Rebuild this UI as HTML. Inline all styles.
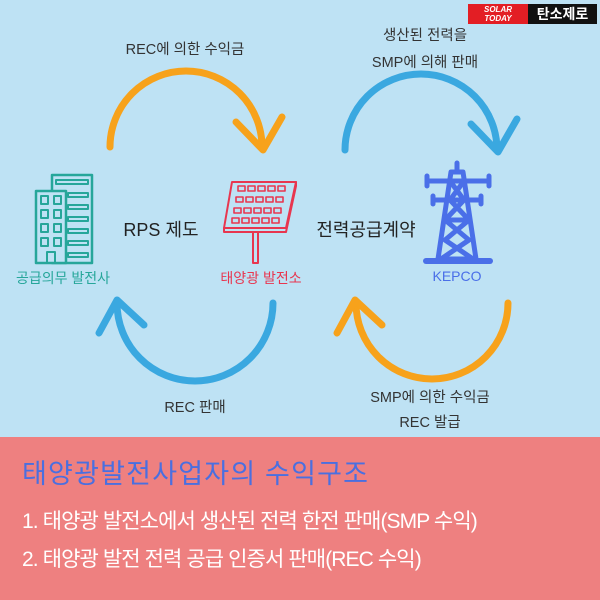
<!DOCTYPE html>
<html><head><meta charset="utf-8"><style>
body{margin:0;width:600px;height:600px;overflow:hidden;background:#bee2f4;font-family:"Liberation Sans","Noto Sans CJK KR",sans-serif;position:relative}
.t{position:absolute;white-space:nowrap;transform:translateX(-50%);color:#333;font-size:14.5px}
.band{position:absolute;left:0;top:437px;width:600px;height:163px;background:#ee8080}
</style></head><body>
<svg width="600" height="600" style="position:absolute;left:0;top:0" fill="none" stroke-linecap="round" stroke-linejoin="round">
<g stroke-width="7">
<path d="M110 147 A76 76 0 0 1 262 147" stroke="#f7a21b"/>
<path d="M236 122 L263 150 L282 117" stroke="#f7a21b"/>
<path d="M345 150 A76 76 0 0 1 497 150" stroke="#3aa8e0"/>
<path d="M471 124 L498 152 L517 119" stroke="#3aa8e0"/>
<path d="M273 303 A78 78 0 0 1 117 303" stroke="#3aa8e0"/>
<path d="M99 333 L117 300 L144 325" stroke="#3aa8e0"/>
<path d="M508 303 A76 76 0 0 1 356 303" stroke="#f7a21b"/>
<path d="M337 333 L355 300 L382 325" stroke="#f7a21b"/>
</g>
<g stroke="#26a69a" stroke-width="2.5">
<rect x="52" y="175" width="40" height="88"/>
<rect x="36" y="191" width="30" height="72" fill="#bee2f4"/>
<g stroke-width="2">
<rect x="56" y="180" width="32" height="4"/><rect x="68" y="193" width="20" height="4"/><rect x="68" y="205" width="20" height="4"/><rect x="68" y="217" width="20" height="4"/><rect x="68" y="229" width="20" height="4"/><rect x="68" y="241" width="20" height="4"/><rect x="68" y="253" width="20" height="4"/>
<rect x="41" y="196" width="7" height="8"/><rect x="54" y="196" width="7" height="8"/>
<rect x="41" y="210" width="7" height="8"/><rect x="54" y="210" width="7" height="8"/>
<rect x="41" y="224" width="7" height="8"/><rect x="54" y="224" width="7" height="8"/>
<rect x="41" y="238" width="7" height="8"/><rect x="54" y="238" width="7" height="8"/>
<rect x="47" y="252" width="8" height="11"/>
</g></g>
<g stroke="#e8364f" stroke-width="2">
<path d="M232 182 L296 182 L286 228 L224 228 Z"/>
<path d="M224 228 L224 232 L286 232 L296 186 L296 182"/>
<rect x="253" y="232" width="5" height="31"/>
<g stroke-width="1.6">
<rect x="238" y="186" width="7" height="5"/><rect x="248" y="186" width="7" height="5"/><rect x="258" y="186" width="7" height="5"/><rect x="268" y="186" width="7" height="5"/><rect x="278" y="186" width="7" height="5"/>
<rect x="236" y="197" width="7" height="5"/><rect x="246" y="197" width="7" height="5"/><rect x="256" y="197" width="7" height="5"/><rect x="266" y="197" width="7" height="5"/><rect x="276" y="197" width="7" height="5"/>
<rect x="234" y="208" width="7" height="5"/><rect x="244" y="208" width="7" height="5"/><rect x="254" y="208" width="7" height="5"/><rect x="264" y="208" width="7" height="5"/><rect x="274" y="208" width="7" height="5"/>
<rect x="232" y="218" width="7" height="5"/><rect x="242" y="218" width="7" height="5"/><rect x="252" y="218" width="7" height="5"/><rect x="262" y="218" width="7" height="5"/><rect x="272" y="218" width="7" height="5"/>
</g></g>
<g stroke="#4a6fe8" stroke-width="5">
<path d="M457 163 L457 170"/>
<path d="M451 172 L463 172 L476 259 L438 259 Z"/>
<path d="M427 181 L489 181 M427 176 L427 186 M489 176 L489 186"/>
<path d="M433 200 L481 200 M433 196 L433 204 M481 196 L481 204"/>
<path d="M450 181 L464 200 L445 220 L469 240 L441 259 M464 181 L450 200 L469 220 L445 240 L473 259"/>
<path d="M445 220 L469 220"/>
<path d="M426 261 L490 261" stroke-width="6"/>
</g>
</svg>
<div class="t" style="left:185px;top:38px">REC에 의한 수익금</div>
<div class="t" style="left:425px;top:24px">생산된 전력을</div>
<div class="t" style="left:425px;top:51px">SMP에 의해 판매</div>
<div class="t" style="left:195px;top:396px">REC 판매</div>
<div class="t" style="left:430px;top:386px">SMP에 의한 수익금</div>
<div class="t" style="left:430px;top:411px">REC 발급</div>
<div class="t" style="left:161px;top:216px;font-size:18px;color:#222">RPS 제도</div>
<div class="t" style="left:366px;top:216px;font-size:18px;color:#222">전력공급계약</div>
<div class="t" style="left:63px;top:268px;font-size:14px;color:#26a69a">공급의무 발전사</div>
<div class="t" style="left:261px;top:268px;font-size:14px;color:#e8364f">태양광 발전소</div>
<div class="t" style="left:457px;top:268px;font-size:14px;color:#4a6fe8">KEPCO</div>
<div style="position:absolute;left:468px;top:4px;width:60px;height:20px;background:#e31e24;color:#fff;font:bold italic 8px/9px 'Liberation Sans',sans-serif;text-align:center;padding-top:1px;box-sizing:border-box">SOLAR<br>TODAY</div>
<div style="position:absolute;left:528px;top:4px;width:69px;height:20px;background:#111;color:#fff;font:bold 14px/20px 'Liberation Sans','Noto Sans CJK KR',sans-serif;text-align:center">탄소제로</div>
<div class="band"></div>
<div style="position:absolute;left:22px;top:452px;font-size:27px;color:#4a6fe0;white-space:nowrap;letter-spacing:1.2px">태양광발전사업자의 수익구조</div>
<div style="position:absolute;left:22px;top:505px;font-size:21px;color:#fff;letter-spacing:-0.9px;white-space:nowrap">1. 태양광 발전소에서 생산된 전력 한전 판매(SMP 수익)</div>
<div style="position:absolute;left:22px;top:543px;font-size:21px;color:#fff;letter-spacing:-0.9px;white-space:nowrap">2. 태양광 발전 전력 공급 인증서 판매(REC 수익)</div>
</body></html>
